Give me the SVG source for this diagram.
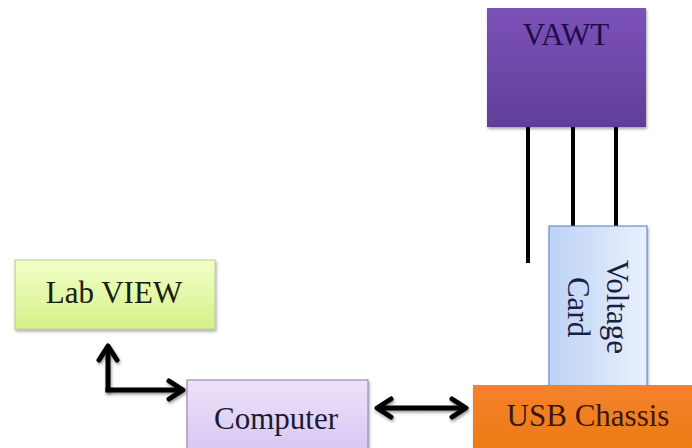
<svg xmlns="http://www.w3.org/2000/svg" width="692" height="448" viewBox="0 0 692 448">
  <defs>
    <linearGradient id="gVawt" x1="0" y1="0" x2="0" y2="1">
      <stop offset="0" stop-color="#7c52b8"/>
      <stop offset="1" stop-color="#603e98"/>
    </linearGradient>
    <linearGradient id="gCard" x1="0" y1="0" x2="1" y2="0">
      <stop offset="0" stop-color="#bcd2f6"/>
      <stop offset="1" stop-color="#eaf1fd"/>
    </linearGradient>
    <linearGradient id="gLab" x1="0" y1="0" x2="0" y2="1">
      <stop offset="0" stop-color="#f2ffc8"/>
      <stop offset="1" stop-color="#d6f08a"/>
    </linearGradient>
    <linearGradient id="gComp" x1="0" y1="0" x2="0" y2="1">
      <stop offset="0" stop-color="#ece2fa"/>
      <stop offset="1" stop-color="#d8c8f2"/>
    </linearGradient>
    <linearGradient id="gUsb" x1="0" y1="0" x2="0" y2="1">
      <stop offset="0" stop-color="#f4822a"/>
      <stop offset="1" stop-color="#ee7a16"/>
    </linearGradient>
    <filter id="shadow" x="-10%" y="-10%" width="130%" height="130%">
      <feDropShadow dx="1" dy="2" stdDeviation="1.5" flood-color="#000" flood-opacity="0.35"/>
    </filter>
    <!-- straight arrows have an empty bounding box side, so use a canvas-sized region -->
    <filter id="lineShadow" filterUnits="userSpaceOnUse" x="0" y="0" width="692" height="448">
      <feDropShadow dx="1" dy="2" stdDeviation="1.5" flood-color="#000" flood-opacity="0.4"/>
    </filter>
    <marker id="head" viewBox="0 0 24 24" refX="19" refY="12" markerWidth="24" markerHeight="24" orient="auto-start-reverse" markerUnits="userSpaceOnUse">
      <path d="M5,3 L19,12 L5,21" fill="none" stroke="#000" stroke-width="5" stroke-linecap="round" stroke-linejoin="round"/>
    </marker>
  </defs>
  <style>
    .lbl { font-family: "Liberation Serif", "Times New Roman", serif; font-size: 31px; }
    .wire { stroke: #000; stroke-width: 4; fill: none; }
    .arrow { stroke: #000; stroke-width: 5; fill: none; stroke-linejoin: miter; marker-end: url(#head); filter: url(#lineShadow); }
  </style>

  <!-- wires from the turbine and the data-link arrows -->
  <g id="connectors">
    <line class="wire" x1="528" y1="125" x2="528" y2="263"/>
    <line class="wire" x1="573" y1="125" x2="573" y2="228"/>
    <line class="wire" x1="616" y1="125" x2="616" y2="228"/>
    <path class="arrow" d="M108,392 L108,346"/>
    <path class="arrow" d="M105.5,390 L183,390"/>
    <path class="arrow" d="M421,408 L377,408"/>
    <path class="arrow" d="M421,408 L466,408"/>
  </g>

  <g id="vawt">
    <rect x="487" y="8" width="159" height="119" fill="url(#gVawt)" filter="url(#shadow)"/>
    <text class="lbl" x="566" y="45" text-anchor="middle" fill="#1c0c48">VAWT</text>
  </g>

  <g id="voltage-card">
    <rect x="549" y="226" width="98" height="160" fill="url(#gCard)" stroke="#5a7cc0" stroke-width="1" filter="url(#shadow)"/>
    <text class="lbl" transform="translate(607,307) rotate(90)" text-anchor="middle" fill="#1a2040">Voltage</text>
    <text class="lbl" transform="translate(568,307) rotate(90)" text-anchor="middle" fill="#1a2040">Card</text>
  </g>

  <g id="usb-chassis">
    <rect x="473" y="385" width="222" height="66" fill="url(#gUsb)" filter="url(#shadow)"/>
    <text class="lbl" x="588" y="426" text-anchor="middle" fill="#3c1808">USB Chassis</text>
  </g>

  <g id="computer">
    <rect x="187" y="380" width="181" height="70" fill="url(#gComp)" stroke="#8a7aa8" stroke-width="1" filter="url(#shadow)"/>
    <text class="lbl" x="276" y="429" text-anchor="middle" fill="#1c1830">Computer</text>
  </g>

  <g id="labview">
    <rect x="15" y="260" width="200" height="69" fill="url(#gLab)" stroke="#b8cc88" stroke-width="1" filter="url(#shadow)"/>
    <text class="lbl" x="114" y="303" text-anchor="middle" fill="#1a2010">Lab VIEW</text>
  </g>
</svg>
